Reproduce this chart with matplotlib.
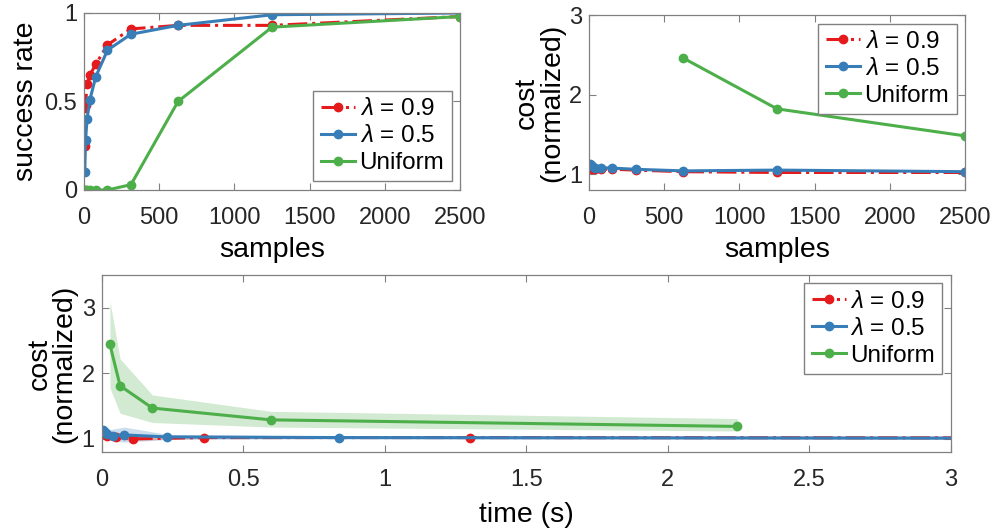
import numpy as np
import matplotlib.pyplot as plt

plt.rcParams['font.family'] = ['Liberation Sans', 'DejaVu Sans']
plt.rcParams['mathtext.fontset'] = 'custom'
plt.rcParams['mathtext.it'] = 'Liberation Sans:italic'

RED = '#e41a1c'
BLUE = '#377eb8'
GREEN = '#4daf4a'

# samples (top plots)
samples = [5, 10, 20, 39, 78, 156, 312, 625, 1250, 2500]
succ_09 = [0.25, 0.48, 0.60, 0.65, 0.71, 0.82, 0.91, 0.93, 0.93, 0.98]
succ_05 = [0.10, 0.28, 0.40, 0.51, 0.64, 0.79, 0.88, 0.93, 0.99, 1.00]
succ_uni = [0.0, 0.0, 0.0, 0.0, 0.0, 0.0, 0.03, 0.50, 0.92, 0.98]

cost_09 = [1.12, 1.10, 1.07, 1.06, 1.06, 1.06, 1.05, 1.03, 1.02, 1.02]
cost_05 = [1.13, 1.12, 1.10, 1.08, 1.08, 1.075, 1.06, 1.04, 1.05, 1.03]
cost_uni = [np.nan, np.nan, np.nan, np.nan, np.nan, np.nan, np.nan, 2.46, 1.82, 1.48]

# time plot (bottom)
t_09 = [0.005, 0.01, 0.02, 0.05, 0.11, 0.36, 1.30, 5.2]
c_09 = [1.12, 1.08, 1.05, 1.03, 1.00, 1.02, 1.02, 1.01]
lo_09 = [1.08, 1.04, 1.01, 0.99, 0.97, 1.00, 1.00, 0.99]
hi_09 = [1.16, 1.12, 1.09, 1.07, 1.04, 1.04, 1.04, 1.03]

t_05 = [0.006, 0.012, 0.02, 0.04, 0.08, 0.23, 0.84, 3.4]
c_05 = [1.13, 1.10, 1.07, 1.05, 1.06, 1.03, 1.02, 1.01]
lo_05 = [1.08, 1.04, 1.00, 0.97, 0.95, 0.99, 1.00, 0.99]
hi_05 = [1.18, 1.16, 1.14, 1.15, 1.18, 1.07, 1.04, 1.03]

t_uni = [0.029, 0.065, 0.179, 0.598, 2.245]
c_uni = [2.44, 1.81, 1.47, 1.29, 1.19]
lo_uni = [1.78, 1.39, 1.25, 1.18, 1.12]
hi_uni = [3.10, 2.22, 1.67, 1.42, 1.31]

labels = [r'$\lambda$ = 0.9', r'$\lambda$ = 0.5', 'Uniform']

fig = plt.figure(figsize=(9.98, 5.32), dpi=100)
ax1 = fig.add_axes([0.0842, 0.6429, 0.3768, 0.3327])
ax2 = fig.add_axes([0.5902, 0.6429, 0.3768, 0.3289])
ax3 = fig.add_axes([0.1019, 0.1504, 0.851, 0.3327])

lw = 2.2
ms = 6
LABEL = 20.5


def style(ax):
    ax.tick_params(direction='in', top=True, right=True, labelsize=17,
                   colors='#262626', length=5, width=0.8)
    ax.tick_params(axis='x', pad=12)
    ax.tick_params(axis='y', pad=5)
    ax.tick_params(axis='both', color='#808080')
    for s in ax.spines.values():
        s.set_color('#808080')
        s.set_linewidth(0.9)


def legend(ax, lines, loc):
    ax.legend(lines, labels, loc=loc, fontsize=17.5, handlelength=1.4, handletextpad=0.2,
              borderpad=0.3, labelspacing=0.2, fancybox=False, edgecolor='#808080',
              framealpha=1, borderaxespad=0.35)


# top left
l1, = ax1.plot(samples, succ_09, '-.', color=RED, lw=lw, marker='o', ms=ms)
l2, = ax1.plot(samples, succ_05, '-', color=BLUE, lw=lw, marker='o', ms=ms)
l3, = ax1.plot(samples, succ_uni, '-', color=GREEN, lw=lw, marker='o', ms=ms)
ax1.set_xlim(0, 2500)
ax1.set_ylim(0, 1)
ax1.set_xticks([0, 500, 1000, 1500, 2000, 2500])
ax1.set_yticks([0, 0.5, 1])
ax1.set_yticklabels(['0', '0.5', '1'])
ax1.set_xlabel('samples', fontsize=LABEL, labelpad=6)
ax1.set_ylabel('success rate', fontsize=LABEL, labelpad=4)
style(ax1)
legend(ax1, [l1, l2, l3], 'lower right')

# top right
l1, = ax2.plot(samples, cost_09, '-.', color=RED, lw=lw, marker='o', ms=ms)
l2, = ax2.plot(samples, cost_05, '-', color=BLUE, lw=lw, marker='o', ms=ms)
l3, = ax2.plot(samples, cost_uni, '-', color=GREEN, lw=lw, marker='o', ms=ms)
ax2.set_xlim(0, 2500)
ax2.set_ylim(0.8, 3)
ax2.set_xticks([0, 500, 1000, 1500, 2000, 2500])
ax2.set_yticks([1, 2, 3])
ax2.set_xlabel('samples', fontsize=LABEL, labelpad=6)
ax2.set_ylabel('cost\n(normalized)', fontsize=LABEL, linespacing=0.95, labelpad=3)
style(ax2)
legend(ax2, [l1, l2, l3], 'upper right')

# bottom
ax3.fill_between(t_uni, lo_uni, hi_uni, color=GREEN, alpha=0.25, lw=0)
ax3.fill_between(t_05, lo_05, hi_05, color=BLUE, alpha=0.25, lw=0)
ax3.fill_between(t_09, lo_09, hi_09, color=RED, alpha=0.25, lw=0)
l1, = ax3.plot(t_09, c_09, '-.', color=RED, lw=lw, marker='o', ms=ms)
l2, = ax3.plot(t_05, c_05, '-', color=BLUE, lw=lw, marker='o', ms=ms)
l3, = ax3.plot(t_uni, c_uni, '-', color=GREEN, lw=lw, marker='o', ms=ms)
ax3.set_xlim(0, 3)
ax3.set_ylim(0.8, 3.5)
ax3.set_xticks([0, 0.5, 1, 1.5, 2, 2.5, 3])
ax3.set_xticklabels(['0', '0.5', '1', '1.5', '2', '2.5', '3'])
ax3.set_yticks([1, 2, 3])
ax3.set_xlabel('time (s)', fontsize=LABEL, labelpad=8)
ax3.set_ylabel('cost\n(normalized)', fontsize=LABEL, linespacing=0.95, labelpad=3)
style(ax3)
legend(ax3, [l1, l2, l3], 'upper right')

fig.savefig('out.png', dpi=100)
